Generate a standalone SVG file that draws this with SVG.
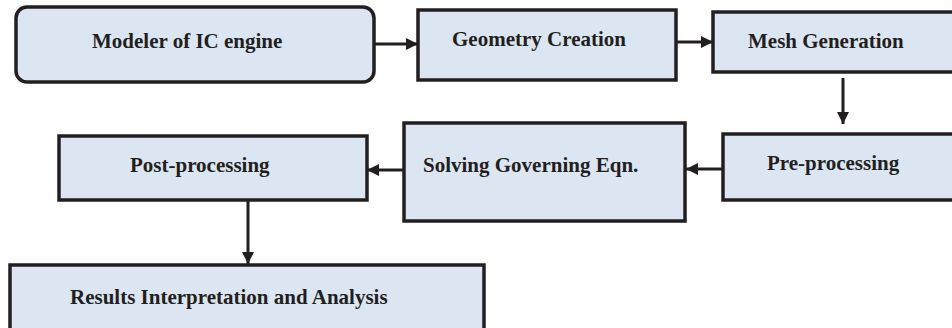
<svg xmlns="http://www.w3.org/2000/svg" width="952" height="328" viewBox="0 0 952 328">
<style>
.box{fill:#dce6f2;stroke:#231f20;stroke-width:3.5}
.lbl{font-family:"Liberation Serif","Times New Roman",serif;font-weight:bold;font-size:21px;fill:#231f20}
.con{stroke:#231f20;stroke-width:3;fill:none}
</style>
<defs>
<marker id="ah" markerUnits="userSpaceOnUse" markerWidth="12" markerHeight="12" viewBox="0 0 12 12" refX="12" refY="6" orient="auto">
<path d="M0,0 L12,6 L0,12 Z" fill="#231f20"/>
</marker>
</defs>
<g id="n1"><rect class="box" x="16" y="7" width="358" height="75" rx="11"/><text class="lbl" x="92" y="48">Modeler of IC engine</text></g>
<g id="n2"><rect class="box" x="418" y="10" width="258" height="70"/><text class="lbl" x="452" y="46">Geometry Creation</text></g>
<g id="n3"><rect class="box" x="713" y="12" width="250" height="60"/><text class="lbl" x="748" y="48">Mesh Generation</text></g>
<g id="n4"><rect class="box" x="723" y="134" width="240" height="66"/><text class="lbl" x="767" y="170">Pre-processing</text></g>
<g id="n5"><rect class="box" x="404" y="123" width="281" height="98"/><text class="lbl" x="423" y="172">Solving Governing Eqn.</text></g>
<g id="n6"><rect class="box" x="59" y="136" width="308" height="64"/><text class="lbl" x="130" y="172">Post-processing</text></g>
<g id="n7"><rect class="box" x="10" y="265" width="474" height="80"/><text class="lbl" x="70" y="304">Results Interpretation and Analysis</text></g>
<g id="connectors">
<line class="con" x1="374" y1="44" x2="418" y2="44" marker-end="url(#ah)"/>
<line class="con" x1="676" y1="42" x2="713" y2="42" marker-end="url(#ah)"/>
<line class="con" x1="843" y1="78" x2="843" y2="124" marker-end="url(#ah)"/>
<line class="con" x1="723" y1="169" x2="686" y2="169" marker-end="url(#ah)"/>
<line class="con" x1="404" y1="170" x2="367" y2="170" marker-end="url(#ah)"/>
<line class="con" x1="248" y1="200" x2="248" y2="264" marker-end="url(#ah)"/>
</g>
</svg>
